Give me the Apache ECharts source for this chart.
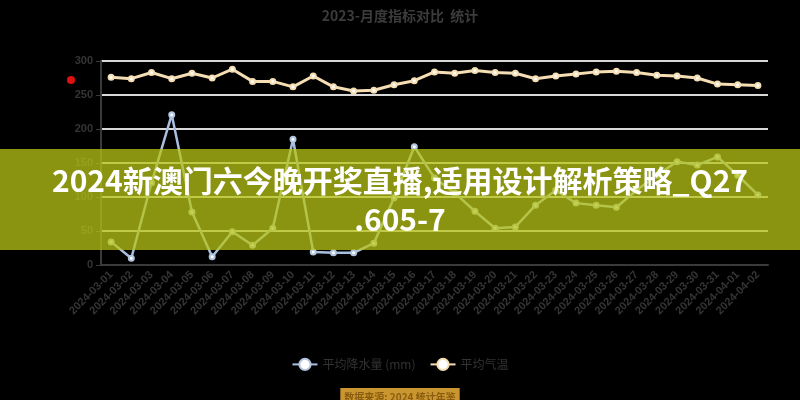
<!DOCTYPE html>
<html>
<head>
<meta charset="utf-8">
<script src="https://cdn.jsdelivr.net/npm/echarts@6/dist/echarts.min.js"></script>
<style>html,body{margin:0;padding:0;background:#000;}#c{width:800px;height:400px;}</style>
</head>
<body>
<div id="c"></div>
<script>
var categories = [
  '2024-03-01','2024-03-02','2024-03-03','2024-03-04','2024-03-05','2024-03-06','2024-03-07','2024-03-08',
  '2024-03-09','2024-03-10','2024-03-11','2024-03-12','2024-03-13','2024-03-14','2024-03-15','2024-03-16',
  '2024-03-17','2024-03-18','2024-03-19','2024-03-20','2024-03-21','2024-03-22','2024-03-23','2024-03-24',
  '2024-03-25','2024-03-26','2024-03-27','2024-03-28','2024-03-29','2024-03-30','2024-03-31','2024-04-01',
  '2024-04-02'
];
var seriesBlue = [34, 10, 121, 221, 78, 12, 49, 29, 54, 185, 19, 18, 18, 32, 99, 174, 128, 106, 79, 54, 56, 88, 110, 91, 88, 85, 110, 132, 152, 147, 159, 132, 103];
var seriesWheat = [276, 274, 283, 274, 282, 275, 288, 270, 270, 262, 278, 262, 256, 257, 265, 271, 284, 282, 286, 283, 282, 274, 278, 281, 284, 285, 283, 279, 278, 275, 266, 265, 264];
var yTicks = { min: 0, max: 300, interval: 50 };
var names = ['平均降水量 (mm)', '平均气温'];
var titleText = '2023-月度指标对比  统计';
var bannerText = '2024新澳门六今晚开奖直播,适用设计解析策略_Q27\n.605-7';
var footText = '数据来源: 2024 统计年鉴';

var chart = echarts.init(document.getElementById('c'));
chart.setOption({
  backgroundColor: '#000',
  animation: false,
  title: {
    text: titleText, left: 'center', top: 4,
    textStyle: { color: '#3c3c3c', fontSize: 14, fontWeight: 'bold', fontFamily: 'Noto Sans CJK SC' }
  },
  legend: {
    data: names, bottom: 24, left: 'center', itemGap: 14,
    textStyle: { color: '#333', fontSize: 12, fontFamily: 'Noto Sans CJK SC' }
  },
  grid: { left: 101, right: 32, top: 61, bottom: 135 },
  xAxis: {
    type: 'category', data: categories,
    axisLine: { lineStyle: { color: '#3a3a3a', width: 2 } },
    axisTick: { lineStyle: { color: '#3a3a3a' } },
    axisLabel: { color: '#353535', rotate: 45, interval: 0, fontSize: 11, fontWeight: 'bold' }
  },
  yAxis: {
    type: 'value', min: yTicks.min, max: yTicks.max, interval: yTicks.interval,
    axisLine: { show: true, lineStyle: { color: '#3a3a3a', width: 2 } },
    axisTick: { show: true, lineStyle: { color: '#3a3a3a' } },
    axisLabel: { color: '#353535', fontSize: 11, fontWeight: 'bold' },
    splitLine: { lineStyle: { color: '#d8d8d8', width: 2 } }
  },
  series: [
    {
      name: names[0], type: 'line', data: seriesBlue,
      symbol: 'emptyCircle', symbolSize: 5,
      itemStyle: { color: '#b0c4de' },
      lineStyle: { color: '#a8bfe0', width: 2.5 }
    },
    {
      name: names[1], type: 'line', data: seriesWheat,
      symbol: 'emptyCircle', symbolSize: 5,
      itemStyle: { color: '#f5deb3' },
      lineStyle: { color: '#f5deb3', width: 3 }
    }
  ],
  graphic: [
    { type: 'circle', shape: { cx: 71, cy: 80, r: 4 }, style: { fill: '#e01010' }, z: 50 },
    { type: 'rect', shape: { x: 0, y: 149, width: 800, height: 101 }, style: { fill: 'rgba(184,197,21,0.75)' }, z: 100 },
    {
      type: 'text', x: 400, y: 200, z: 101,
      style: {
        text: bannerText, fill: '#fff', align: 'center', verticalAlign: 'middle',
        font: 'bold 30px "Noto Sans CJK SC"', lineHeight: 39
      }
    },
    {
      type: 'text', x: 400, y: 397, z: 101,
      style: {
        text: footText, fill: '#8a5c10', align: 'center', verticalAlign: 'middle',
        font: 'bold 10px "Noto Sans CJK SC"', backgroundColor: '#c9962f', padding: [4, 4]
      }
    }
  ]
});
</script>
</body>
</html>
